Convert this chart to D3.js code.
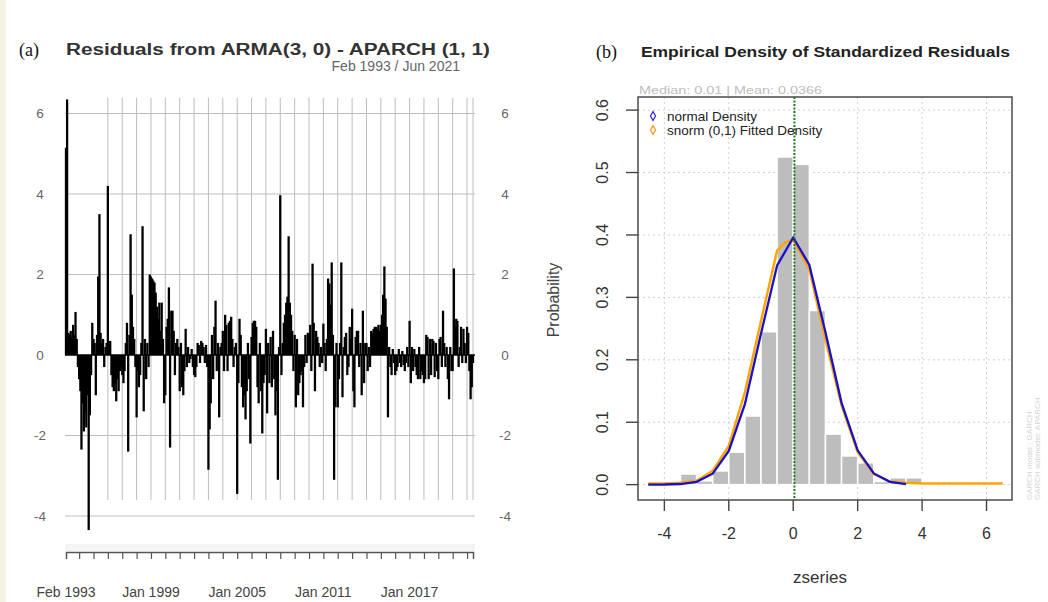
<!DOCTYPE html>
<html>
<head>
<meta charset="utf-8">
<script src="https://cdn.jsdelivr.net/npm/d3@7"></script>
<style>
  body { margin: 0; background: #fff; }
  svg { display: block; font-family: "Liberation Sans", Arial, sans-serif; }
</style>
</head>
<body>
<svg id="chart" width="1048" height="602"></svg>
<script>
// ---- panel (a): monthly residuals Feb 1993 .. Jun 2021 ----
var res1993 = [5.15, 6.35, 0.55, 0.5, 0.6, 0.45, 0.75, 0.5, 1.07, 0.4, -0.3]
var res1994 = [-0.6, -0.9, -2.35, -1.2, -1.9, -1.4, -1.8, -1.0, -4.35, -1.5, -0.5, 0.8]
var res1995 = [0.4, 0.3, -1.0, 0.5, 1.95, 3.5, 0.55, 0.3, 0.4, -0.3, 0.2, 0.3]
var res1996 = [4.2, 0.3, 0.35, -0.5, -0.8, -0.9, -0.7, -1.15, -0.6, -0.9, -0.4, -0.3]
var res1997 = [-0.5, -0.7, -0.4, 0.3, 0.8, -2.4, 0.5, 3.0, 1.5, 0.7, 0.4, -0.3]
var res1998 = [-1.55, -0.4, -0.8, -0.5, 0.3, 3.2, -1.4, 0.4, -0.6, 0.3, -0.3, 2.0]
var res1999 = [1.95, 1.9, 1.85, 1.8, 1.55, 1.2, 0.9, 1.3, 0.6, 1.3, 0.4, -1.2]
var res2000 = [-1.0, 0.7, 0.9, 1.68, -2.3, 1.1, 1.1, 0.6, -0.5, 0.3, 0.4, 0.2]
var res2001 = [-0.9, 0.3, -0.8, -1.0, -0.4, 0.65, -0.3, 0.2, -0.2, -0.1, 0.15, -0.3]
var res2002 = [-0.5, -0.55, -0.3, 0.3, 0.25, -0.2, 0.35, 0.3, 0.2, -0.2, 0.25, -0.3]
var res2003 = [-2.85, -1.85, -1.2, 0.5, -0.6, 0.7, 1.35, -0.4, 0.3, -1.55, 0.2, 0.3]
var res2004 = [0.6, -0.4, 1.0, 0.75, -0.4, 0.8, 0.85, 0.95, 0.4, -0.3, 0.2, 0.3]
var res2005 = [-3.45, -0.7, 0.9, 0.5, -0.8, -1.3, -1.0, -1.6, -0.9, 0.3, -0.6, -2.2]
var res2006 = [0.45, 0.8, 0.85, 0.85, 0.7, -0.8, -1.2, 0.3, -0.9, -1.95, -0.7, -0.5]
var res2007 = [0.65, -1.45, 0.3, -0.7, 0.45, -0.8, 0.6, -0.6, -1.5, -0.9, -3.1, 0.2]
var res2008 = [3.97, -0.5, 0.3, 0.8, 1.0, 1.3, 1.45, 2.95, 1.3, 1.0, 0.6, -0.4]
var res2009 = [0.5, -1.3, 0.4, -1.0, -0.7, -0.5, -0.4, -1.3, -0.3, 0.5, -0.2, 0.55]
var res2010 = [0.55, 0.75, -0.4, 2.27, 0.8, -0.9, 0.6, 0.45, 0.3, -0.3, 0.2, -0.2]
var res2011 = [0.78, 0.3, -0.4, 0.4, 1.9, 1.78, 1.25, 2.3, 0.5, -3.1, -1.3, 0.3]
var res2012 = [-1.3, -0.6, 0.3, 2.3, -1.05, 0.2, 0.45, 0.55, -0.5, -0.3, 0.7, 0.4]
var res2013 = [1.15, -0.9, -1.3, 0.45, 0.6, 0.6, -0.3, 0.3, -1.0, 1.1, -0.7, 0.3]
var res2014 = [0.3, -0.4, 0.2, -0.3, 0.6, 0.55, 0.65, 0.7, 0.7, 0.65, 0.75, 0.6]
var res2015 = [0.75, 1.0, 1.5, 2.2, 1.4, 0.7, -1.55, 0.2, -0.3, -0.5, 0.15, -0.2]
var res2016 = [-0.5, -0.4, -0.3, 0.15, -0.2, -0.3, 0.1, -0.25, -0.4, -0.2, 0.2, -0.3]
var res2017 = [0.85, -0.7, 0.2, -0.4, 0.15, -0.3, -0.5, -0.6, 0.2, -0.6, -0.4, -0.5]
var res2018 = [-0.7, -0.6, 0.5, 0.45, -0.6, 0.4, -0.5, 0.4, 0.35, -0.55, 0.3, -0.4]
var res2019 = [-0.6, 0.4, 0.45, -0.3, 1.1, 0.3, -0.3, 0.2, -0.6, -1.1, 0.2, -0.4]
var res2020 = [-0.4, 2.15, 0.7, 0.9, 0.85, -0.3, 0.2, 0.7, -0.2, 0.65, 0.3, -0.2]
var res2021 = [0.7, 0.55, -0.4, -1.1, -0.8, -0.2]

var residuals = [].concat(res1993, res1994, res1995, res1996, res1997, res1998, res1999,
  res2000, res2001, res2002, res2003, res2004, res2005, res2006, res2007, res2008,
  res2009, res2010, res2011, res2012, res2013, res2014, res2015, res2016, res2017,
  res2018, res2019, res2020, res2021)

var resYTicks = [-4, -2, 0, 2, 4, 6]
var resXLabels = ["Feb 1993", "Jan 1999", "Jan 2005", "Jan 2011", "Jan 2017"]

// ---- panel (b): histogram of standardized residuals + two density curves ----
var binStarts = [-4.5, -4, -3.5, -3, -2.5, -2, -1.5, -1, -0.5, 0, 0.5, 1, 1.5, 2, 2.5, 3, 3.5, 4, 4.5, 5, 5.5, 6]
var binDensity = [0.004, 0, 0.017, 0.006, 0.022, 0.052, 0.110, 0.245, 0.525, 0.513, 0.279, 0.081, 0.046, 0.035, 0.005, 0.011, 0.011, 0.004, 0, 0.004, 0, 0.004]
var binWidth = 0.5

var normX = [-4.5, -4, -3.5, -3, -2.5, -2, -1.5, -1, -0.5, 0, 0.5, 1, 1.5, 2, 2.5, 3, 3.5]
var normY = [0.000, 0.0002, 0.001, 0.0045, 0.0175, 0.054, 0.129, 0.242, 0.351, 0.396, 0.352, 0.244, 0.131, 0.055, 0.018, 0.0045, 0.001]

var snormX = [-4.5, -4, -3.5, -3, -2.5, -2, -1.5, -1, -0.5, -0.25, 0, 0.5, 1, 1.5, 2, 2.5, 3, 3.5, 4, 4.5, 5, 5.5, 6, 6.5]
var snormY = [0.002, 0.002, 0.003, 0.006, 0.022, 0.062, 0.148, 0.262, 0.375, 0.388, 0.392, 0.345, 0.232, 0.127, 0.052, 0.017, 0.005, 0.003, 0.002, 0.002, 0.002, 0.002, 0.002, 0.002]

var densXTicks = [-4, -2, 0, 2, 4, 6]
var densYTicks = [0, 0.1, 0.2, 0.3, 0.4, 0.5, 0.6]
var meanValue = 0.0366

var svg = d3.select("#chart")

// page frame (light beige strip at the left edge)
svg.append("rect").attr("x", 0).attr("y", 0).attr("width", 1048).attr("height", 602).attr("fill", "#fff")
svg.append("rect").attr("x", 0).attr("y", 0).attr("width", 6).attr("height", 602).attr("fill", "#f6f1e7")

//------------------------------------------------------------------
// panel (a)
//------------------------------------------------------------------
var startDate = new Date(1993, 1, 1),
    endDate = new Date(2021, 5, 1)

var xA = d3.scaleTime().domain([startDate, endDate]).range([66, 473])
var yA = d3.scaleLinear().domain([-4, 6]).range([516, 113.5])

var resData = residuals.map(function(v, i){
  return { date: d3.timeMonth.offset(startDate, i), value: v }
})

var gA = svg.append("g").attr("class", "panelA")

// grid
var yearGrid = d3.timeYear.range(new Date(1996, 0, 1), new Date(2021, 0, 2)).concat([endDate])
gA.selectAll(".vgrid")
  .data(yearGrid)
  .enter().append("line")
    .attr("class", "vgrid")
    .attr("x1", function(d){ return xA(d) })
    .attr("x2", function(d){ return xA(d) })
    .attr("y1", 98)
    .attr("y2", 500)
    .attr("stroke", "#bdbdbd")
    .attr("stroke-width", 1)

gA.selectAll(".hgrid")
  .data(resYTicks.filter(function(d){ return d != 0 }))
  .enter().append("line")
    .attr("class", "hgrid")
    .attr("x1", 65)
    .attr("x2", 475)
    .attr("y1", function(d){ return yA(d) })
    .attr("y2", function(d){ return yA(d) })
    .attr("stroke", "#bdbdbd")
    .attr("stroke-width", 1)

// residual bars (type = "h")
gA.selectAll(".resBar")
  .data(resData)
  .enter().append("line")
    .attr("class", "resBar")
    .attr("x1", function(d){ return xA(d.date) })
    .attr("x2", function(d){ return xA(d.date) })
    .attr("y1", yA(0))
    .attr("y2", function(d){ return yA(d.value) })
    .attr("stroke", "#000")
    .attr("stroke-width", 2.3)

gA.append("line")
  .attr("x1", 65).attr("x2", 475)
  .attr("y1", yA(0)).attr("y2", yA(0))
  .attr("stroke", "#000").attr("stroke-width", 1.5)

// y labels on both sides
gA.selectAll(".yLabL")
  .data(resYTicks)
  .enter().append("text")
    .attr("x", 40)
    .attr("y", function(d){ return yA(d) })
    .attr("dy", "0.35em")
    .attr("text-anchor", "middle")
    .attr("font-size", 13.5)
    .attr("fill", "#666")
    .text(function(d){ return d })

gA.selectAll(".yLabR")
  .data(resYTicks)
  .enter().append("text")
    .attr("x", 505)
    .attr("y", function(d){ return yA(d) })
    .attr("dy", "0.35em")
    .attr("text-anchor", "middle")
    .attr("font-size", 13.5)
    .attr("fill", "#666")
    .text(function(d){ return d })

// bottom time axis
gA.append("rect")
  .attr("x", 65).attr("y", 544).attr("width", 410).attr("height", 7)
  .attr("fill", "#f4f4f4")

var tickDates = [startDate].concat(d3.timeYear.range(new Date(1994, 0, 1), new Date(2021, 0, 2))).concat([endDate])
var axisA = d3.axisBottom(xA)
  .tickValues(tickDates)
  .tickSize(7)
  .tickFormat("")

gA.append("g")
  .attr("transform", "translate(0,552)")
  .call(axisA)
  .call(function(g){
    g.select(".domain").attr("stroke", "#555").attr("stroke-width", 1.3)
    g.selectAll(".tick line").attr("stroke", "#555").attr("stroke-width", 1.2)
  })

var labelDates = [startDate, new Date(1999, 0, 1), new Date(2005, 0, 1), new Date(2011, 0, 1), new Date(2017, 0, 1)]
gA.selectAll(".xLab")
  .data(resXLabels)
  .enter().append("text")
    .attr("x", function(d, i){ return xA(labelDates[i]) })
    .attr("y", 592)
    .attr("dy", "0.35em")
    .attr("text-anchor", "middle")
    .attr("font-size", 14)
    .attr("fill", "#444")
    .text(function(d){ return d })

// titles
svg.append("text")
  .attr("x", 19).attr("y", 56)
  .attr("font-family", "Liberation Serif, serif")
  .attr("font-size", 18)
  .attr("fill", "#111")
  .text("(a)")
svg.append("text")
  .attr("x", 66).attr("y", 55)
  .attr("font-size", 16)
  .attr("font-weight", "bold")
  .attr("fill", "#333")
  .attr("textLength", 424)
  .attr("lengthAdjust", "spacingAndGlyphs")
  .text("Residuals from ARMA(3, 0) - APARCH (1, 1)")
svg.append("text")
  .attr("x", 460).attr("y", 71)
  .attr("text-anchor", "end")
  .attr("font-size", 14)
  .attr("fill", "#666")
  .text("Feb 1993 / Jun 2021")

//------------------------------------------------------------------
// panel (b)
//------------------------------------------------------------------
var box = { left: 638, right: 1012, top: 97, bottom: 500 }

var xB = d3.scaleLinear().domain([-4.818, 6.79]).range([box.left, box.right])
var yB = d3.scaleLinear().domain([-0.0246, 0.621]).range([box.bottom, box.top])

var gB = svg.append("g").attr("class", "panelB")

// dotted grid
gB.selectAll(".bvgrid")
  .data(densXTicks.filter(function(d){ return d != 0 }))
  .enter().append("line")
    .attr("x1", function(d){ return xB(d) })
    .attr("x2", function(d){ return xB(d) })
    .attr("y1", box.top).attr("y2", box.bottom)
    .attr("stroke", "#d0d0d0")
    .attr("stroke-dasharray", "2,3")

gB.selectAll(".bhgrid")
  .data(densYTicks)
  .enter().append("line")
    .attr("x1", box.left).attr("x2", box.right)
    .attr("y1", function(d){ return yB(d) })
    .attr("y2", function(d){ return yB(d) })
    .attr("stroke", "#d0d0d0")
    .attr("stroke-dasharray", "2,3")

// histogram
gB.selectAll(".histBar")
  .data(binStarts)
  .enter().append("rect")
    .attr("class", "histBar")
    .attr("x", function(d){ return xB(d) })
    .attr("width", function(d){ return xB(d + binWidth) - xB(d) })
    .attr("y", function(d, i){ return yB(binDensity[i]) })
    .attr("height", function(d, i){ return yB(0) - yB(binDensity[i]) })
    .attr("fill", "#bdbdbd")
    .attr("stroke", "#fff")
    .attr("stroke-width", 1.5)

var line = d3.line()
  .x(function(d){ return xB(d[0]) })
  .y(function(d){ return yB(d[1]) })

gB.append("path")
  .datum(d3.zip(snormX, snormY))
  .attr("d", line)
  .attr("fill", "none")
  .attr("stroke", "#ffa500")
  .attr("stroke-width", 2.5)

gB.append("path")
  .datum(d3.zip(normX, normY))
  .attr("d", line)
  .attr("fill", "none")
  .attr("stroke", "#1a10c8")
  .attr("stroke-width", 2.3)

// mean line
gB.append("line")
  .attr("x1", xB(meanValue)).attr("x2", xB(meanValue))
  .attr("y1", box.top).attr("y2", box.bottom)
  .attr("stroke", "#1f7a1f")
  .attr("stroke-width", 2)
  .attr("stroke-dasharray", "2,1.5")

// frame
gB.append("rect")
  .attr("x", box.left).attr("y", box.top)
  .attr("width", box.right - box.left).attr("height", box.bottom - box.top)
  .attr("fill", "none")
  .attr("stroke", "#555")
  .attr("stroke-width", 1.6)

// y axis (rotated labels)
gB.selectAll(".ytick")
  .data(densYTicks)
  .enter().append("line")
    .attr("x1", 626).attr("x2", box.left)
    .attr("y1", function(d){ return yB(d) })
    .attr("y2", function(d){ return yB(d) })
    .attr("stroke", "#444").attr("stroke-width", 1.4)

gB.selectAll(".ylab")
  .data(densYTicks)
  .enter().append("text")
    .attr("transform", function(d){ return "translate(602," + yB(d) + ") rotate(-90)" })
    .attr("dy", "0.35em")
    .attr("text-anchor", "middle")
    .attr("font-size", 16)
    .attr("fill", "#333")
    .text(function(d){ return d3.format(".1f")(d) })

// x axis
gB.selectAll(".xtick")
  .data(densXTicks)
  .enter().append("line")
    .attr("x1", function(d){ return xB(d) })
    .attr("x2", function(d){ return xB(d) })
    .attr("y1", box.bottom).attr("y2", box.bottom + 11)
    .attr("stroke", "#444").attr("stroke-width", 1.4)

gB.selectAll(".xlab")
  .data(densXTicks)
  .enter().append("text")
    .attr("x", function(d){ return xB(d) })
    .attr("y", 533)
    .attr("dy", "0.35em")
    .attr("text-anchor", "middle")
    .attr("font-size", 16)
    .attr("fill", "#333")
    .text(function(d){ return d })

svg.append("text")
  .attr("transform", "translate(553,300) rotate(-90)")
  .attr("dy", "0.35em")
  .attr("text-anchor", "middle")
  .attr("font-size", 16)
  .attr("fill", "#444")
  .text("Probability")

svg.append("text")
  .attr("x", 820).attr("y", 577)
  .attr("dy", "0.35em")
  .attr("text-anchor", "middle")
  .attr("font-size", 17)
  .attr("fill", "#333")
  .text("zseries")

// titles
svg.append("text")
  .attr("x", 596).attr("y", 58)
  .attr("font-family", "Liberation Serif, serif")
  .attr("font-size", 18)
  .attr("fill", "#111")
  .text("(b)")
svg.append("text")
  .attr("x", 641).attr("y", 57)
  .attr("font-size", 14)
  .attr("font-weight", "bold")
  .attr("fill", "#222")
  .attr("textLength", 369)
  .attr("lengthAdjust", "spacingAndGlyphs")
  .text("Empirical Density of Standardized Residuals")

svg.append("text")
  .attr("x", 639).attr("y", 90)
  .attr("dy", "0.35em")
  .attr("font-size", 10)
  .attr("fill", "#bdbdbd")
  .attr("textLength", 183)
  .attr("lengthAdjust", "spacingAndGlyphs")
  .text("Median:  0.01 | Mean:  0.0366")

// legend
var legendItems = [
  { label: "normal Density", color: "#3b32d0", y: 116 },
  { label: "snorm (0,1) Fitted Density", color: "#f0a020", y: 130 }
]
var symbol = d3.symbol().type(d3.symbolDiamond).size(22)
gB.selectAll(".legSym")
  .data(legendItems)
  .enter().append("path")
    .attr("d", symbol)
    .attr("transform", function(d){ return "translate(653," + d.y + ")" })
    .attr("fill", "none")
    .attr("stroke", function(d){ return d.color })
    .attr("stroke-width", 1.3)
gB.selectAll(".legText")
  .data(legendItems)
  .enter().append("text")
    .attr("x", 667)
    .attr("y", function(d){ return d.y })
    .attr("dy", "0.35em")
    .attr("font-size", 13.5)
    .attr("fill", "#222")
    .text(function(d){ return d.label })

// faint model note at the right edge
var notes = ["GARCH model : GARCH", "GARCH submodel: APARCH"]
svg.selectAll(".note")
  .data(notes)
  .enter().append("text")
    .attr("transform", function(d, i){ return "translate(" + (1032 + i * 8) + ",500) rotate(-90)" })
    .attr("font-size", 8)
    .attr("fill", "#d4d4d4")
    .text(function(d){ return d })
</script>
</body>
</html>
